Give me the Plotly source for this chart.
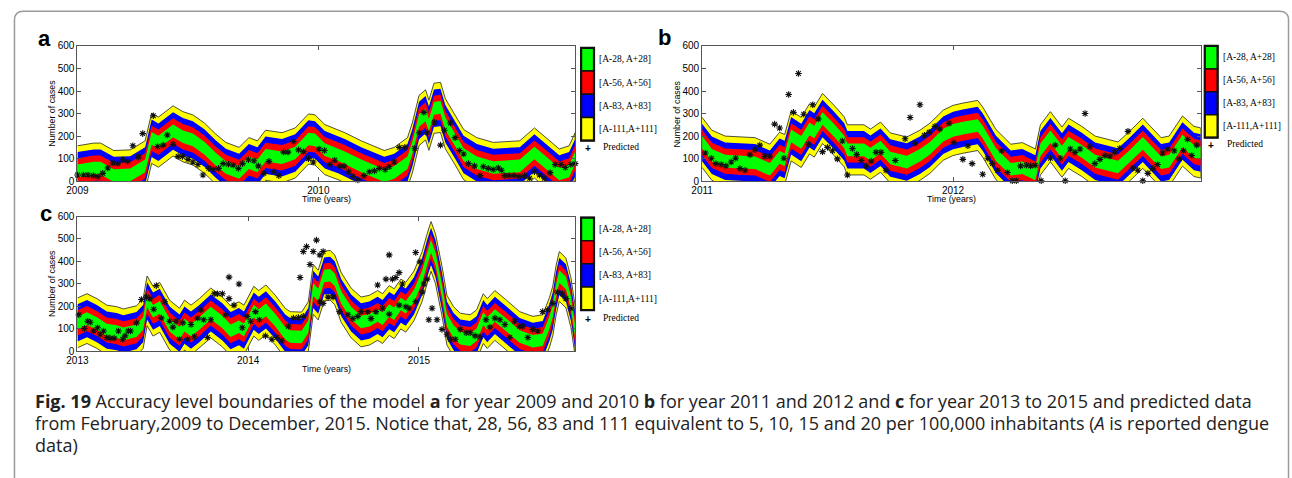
import plotly.graph_objects as go

# ---------------- data ----------------
# reported data A (centre of the bands) per panel
a_t = [2009.000, 2009.068, 2009.096, 2009.151, 2009.219, 2009.247, 2009.281, 2009.308, 2009.336, 2009.397,
       2009.438, 2009.479, 2009.527, 2009.575, 2009.616, 2009.671, 2009.712, 2009.747, 2009.781, 2009.849,
       2009.904, 2009.959, 2009.986, 2010.027, 2010.082, 2010.110, 2010.178, 2010.274, 2010.315, 2010.370,
       2010.390, 2010.418, 2010.445, 2010.459, 2010.480, 2010.507, 2010.527, 2010.568, 2010.603, 2010.658,
       2010.726, 2010.836, 2010.897, 2010.945, 2011.000, 2011.041, 2011.066]
a_A = [47, 59, 59, 26, 29, 47, 69, 191, 174, 224,
       198, 184, 148, 98, 62, 40, 83, 69, 116, 105,
       126, 188, 184, 141, 119, 105, 69, 26, 40, 83,
       148, 270, 295, 249, 324, 328, 256, 184, 119, 83,
       62, 69, 126, 83, 33, 47, 105]

b_t = [2011.000, 2011.039, 2011.092, 2011.145, 2011.211, 2011.270, 2011.309, 2011.329, 2011.355, 2011.395,
       2011.428, 2011.447, 2011.480, 2011.526, 2011.566, 2011.579, 2011.645, 2011.671, 2011.711, 2011.750,
       2011.816, 2011.868, 2011.908, 2011.961, 2012.000, 2012.039, 2012.098, 2012.118, 2012.171, 2012.230,
       2012.276, 2012.328, 2012.348, 2012.388, 2012.434, 2012.460, 2012.513, 2012.566, 2012.657, 2012.697,
       2012.756, 2012.829, 2012.861, 2012.914, 2012.960, 2012.987]
b_A = [173, 116, 90, 86, 83, 54, 107, 97, 202, 173,
       233, 219, 279, 226, 176, 140, 140, 121, 152, 104,
       86, 116, 147, 205, 226, 236, 248, 219, 119, 54,
       61, 33, 140, 198, 130, 169, 133, 90, 64, 104,
       169, 83, 90, 179, 133, 126]

c_t = [2013.000, 2013.056, 2013.114, 2013.172, 2013.230, 2013.269, 2013.346, 2013.385, 2013.408, 2013.443,
       2013.482, 2013.540, 2013.598, 2013.627, 2013.665, 2013.714, 2013.781, 2013.849, 2013.897, 2013.946,
       2013.975, 2014.033, 2014.062, 2014.104, 2014.159, 2014.217, 2014.246, 2014.313, 2014.352, 2014.381,
       2014.410, 2014.445, 2014.480, 2014.507, 2014.545, 2014.603, 2014.661, 2014.710, 2014.758, 2014.787,
       2014.826, 2014.855, 2014.894, 2014.923, 2014.971, 2015.019, 2015.048, 2015.071, 2015.097, 2015.135,
       2015.164, 2015.203, 2015.242, 2015.300, 2015.338, 2015.377, 2015.400, 2015.445, 2015.513, 2015.590,
       2015.667, 2015.725, 2015.765, 2015.784, 2015.803, 2015.822, 2015.861, 2015.890, 2015.915]
c_A = [126, 145, 123, 94, 87, 77, 91, 123, 224, 178,
       195, 116, 80, 116, 94, 123, 170, 130, 91, 109,
       94, 178, 159, 184, 138, 80, 65, 63, 109, 275,
       250, 335, 338, 318, 239, 170, 130, 138, 159, 145,
       181, 167, 210, 196, 246, 333, 412, 467, 412, 268,
       138, 87, 58, 51, 73, 145, 123, 159, 116, 65,
       44, 51, 129, 179, 269, 333, 304, 217, 89]

# predicted data per panel
a_pt = [2009.000, 2009.025, 2009.044, 2009.066, 2009.085, 2009.105, 2009.126, 2009.147, 2009.167, 2009.188,
        2009.208, 2009.230, 2009.253, 2009.271, 2009.315, 2009.333, 2009.356, 2009.373, 2009.397, 2009.418,
        2009.436, 2009.459, 2009.479, 2009.500, 2009.521, 2009.545, 2009.564, 2009.586, 2009.605, 2009.627,
        2009.647, 2009.668, 2009.685, 2009.710, 2009.733, 2009.751, 2009.774, 2009.795, 2009.815, 2009.836,
        2009.856, 2009.874, 2009.897, 2009.918, 2009.938, 2009.959, 2009.979, 2010.003, 2010.025, 2010.048,
        2010.068, 2010.089, 2010.107, 2010.126, 2010.144, 2010.164, 2010.189, 2010.212, 2010.233, 2010.253,
        2010.277, 2010.294, 2010.315, 2010.336, 2010.359, 2010.400, 2010.419, 2010.438, 2010.452, 2010.482,
        2010.507, 2010.523, 2010.548, 2010.568, 2010.586, 2010.603, 2010.623, 2010.648, 2010.671, 2010.685,
        2010.705, 2010.726, 2010.747, 2010.760, 2010.774, 2010.792, 2010.812, 2010.833, 2010.856, 2010.877,
        2010.897, 2010.918, 2010.938, 2010.962, 2010.983, 2011.007, 2011.025, 2011.048, 2011.066]
a_pv = [29, 29, 29, 26, 22, 36, 60, 82, 79, 96,
        89, 158, 108, 212, 291, 155, 161, 206, 165, 111,
        111, 98, 86, 75, 29, 58, 53, 58, 79, 76,
        72, 58, 79, 96, 92, 69, 36, 89, 43, 26,
        130, 130, 177, 140, 132, 101, 86, 144, 137, 75,
        94, 68, 68, 43, 22, 7, 26, 43, 47, 58,
        53, 65, 86, 151, 151, 147, 216, 306, 216, 262,
        161, 227, 259, 194, 137, 122, 79, 69, 26, 65,
        58, 53, 60, 50, 26, 26, 26, 22, 26, 14,
        43, 29, 14, 39, 75, 75, 62, 75, 79]

b_pt = [2011.013, 2011.037, 2011.055, 2011.076, 2011.095, 2011.116, 2011.134, 2011.151, 2011.171, 2011.191,
        2011.211, 2011.230, 2011.250, 2011.270, 2011.289, 2011.309, 2011.326, 2011.345, 2011.364, 2011.384,
        2011.405, 2011.424, 2011.441, 2011.463, 2011.480, 2011.500, 2011.520, 2011.539, 2011.559, 2011.579,
        2011.599, 2011.616, 2011.634, 2011.654, 2011.674, 2011.693, 2011.713, 2011.733, 2011.770, 2011.809,
        2011.829, 2011.849, 2011.868, 2011.886, 2011.905, 2011.928, 2011.947, 2011.984, 2012.003, 2012.039,
        2012.059, 2012.076,
        2012.118, 2012.138, 2012.157, 2012.177, 2012.194, 2012.217, 2012.236, 2012.252, 2012.269, 2012.292,
        2012.309, 2012.328, 2012.351, 2012.388, 2012.407, 2012.427, 2012.447, 2012.467, 2012.486, 2012.506,
        2012.526, 2012.546, 2012.565, 2012.585, 2012.605, 2012.625, 2012.644, 2012.664, 2012.697, 2012.717,
        2012.736, 2012.756, 2012.776, 2012.796, 2012.815, 2012.835, 2012.855, 2012.881, 2012.901, 2012.918,
        2012.934, 2012.951, 2012.971, 2012.989]
b_pv = [126, 103, 79, 75, 69, 86, 103, 57, 50, 118,
        141, 161, 112, 112, 254, 237, 103, 385, 306, 478,
        298, 165, 340, 277, 132, 151, 136, 100, 179, 29,
        146, 119, 93, 69, 90, 129, 129, 50, 93, 189,
        283, 169, 340, 205, 218, 244, 232, 258, 172, 98,
        158, 79,
        32, 103, 79, 50, 136, 40, 3, 3, 69, 72,
        69, 72, 3, 103, 161, 103, 3, 144, 129, 144,
        301, 155, 79, 98, 115, 112, 129, 146, 222, 60,
        50, 3, 36, 57, 75, 126, 144, 136, 100, 136,
        187, 115, 161, 115]

c_pt = [2013.008, 2013.041, 2013.060, 2013.075, 2013.095, 2013.118, 2013.133, 2013.153, 2013.172, 2013.191,
        2013.215, 2013.240, 2013.265, 2013.279, 2013.298, 2013.311, 2013.346, 2013.375, 2013.404, 2013.424,
        2013.447, 2013.462, 2013.491, 2013.511, 2013.540, 2013.559, 2013.578, 2013.598, 2013.617, 2013.646,
        2013.665, 2013.685, 2013.704, 2013.723, 2013.739, 2013.762, 2013.781, 2013.801, 2013.820, 2013.849,
        2013.868, 2013.888, 2013.888, 2013.917, 2013.946, 2013.965, 2013.994, 2014.014, 2014.043, 2014.066,
        2014.101, 2014.139, 2014.168, 2014.197, 2014.236, 2014.265, 2014.294, 2014.323,
        2014.304, 2014.323, 2014.342, 2014.362, 2014.381, 2014.400, 2014.420, 2014.439,
        2014.420, 2014.439, 2014.468, 2014.497,
        2014.758, 2014.807, 2014.826, 2014.845, 2014.865, 2014.884, 2014.903, 2014.981, 2015.006, 2015.029,
        2015.048,
        2014.536, 2014.584, 2014.613, 2014.642, 2014.661, 2014.700, 2014.719, 2014.748, 2014.787, 2014.826,
        2014.884, 2014.923, 2014.942, 2014.981, 2015.019, 2015.058, 2015.077, 2015.106, 2015.135, 2015.164,
        2015.184, 2015.213, 2015.242, 2015.277, 2015.300, 2015.329, 2015.358, 2015.393, 2015.416, 2015.445,
        2015.474, 2015.503, 2015.532, 2015.561, 2015.590, 2015.609, 2015.638, 2015.667, 2015.696, 2015.725,
        2015.754, 2015.784, 2015.812, 2015.841, 2015.861, 2015.890]
c_pv = [162, 101, 133, 129, 90, 104, 75, 90, 61, 58,
        58, 90, 53, 68, 90, 90, 126, 230, 241, 234,
        187, 292, 147, 220, 133, 107, 133, 53, 126, 53,
        119, 64, 147, 184, 140, 61, 140, 256, 256, 256,
        162, 234, 330, 205, 299, 104, 155, 133, 176, 140,
        68, 53, 61, 46, 111, 147, 150, 155,
        328, 444, 466, 386, 444, 495, 429, 444,
        220, 213, 241, 241,
        295, 321, 429, 321, 328, 350, 299, 440, 398, 299,
        321,
        176, 162, 145, 155, 176, 176, 145, 176, 191, 165,
        205, 198, 191, 220, 263, 140, 191, 140, 97, 75,
        53, 53, 97, 82, 82, 68, 64, 140, 107, 147,
        140, 119, 61, 133, 111, 111, 61, 97, 90, 176,
        184, 213, 263, 256, 234, 191]

band_halfwidths = [111, 83, 56, 28]
band_colors = ["#FFFF00", "#0000FF", "#FF0000", "#00FF00"]
legend_labels = ["[A-28, A+28]", "[A-56, A+56]", "[A-83, A+83]", "[A-111,A+111]"]
legend_colors = ["#00FF00", "#FF0000", "#0000FF", "#FFFF00"]
y_ticks = [0, 100, 200, 300, 400, 500, 600]

# ---------------- layout helpers ----------------
W, H = 1292, 478
def PX(x): return x / W
def PY(y): return 1 - y / H

panels = [
    dict(t=a_t, A=a_A, pt=a_pt, pv=a_pv, box=(67, 41, 569, 180), xr=[2009, 2011.066],
         xt=[2009, 2010], letter="a", letter_xy=(34, 33),
         leg=(575, 43, 588, 138), leg_text_x=591, pred_y=145),
    dict(t=b_t, A=b_A, pt=b_pt, pv=b_pv, box=(697, 41, 1200, 180), xr=[2011, 2012.987],
         xt=[2011, 2012], letter="b", letter_xy=(659, 32),
         leg=(1204, 41, 1217, 135), leg_text_x=1220, pred_y=142),
    dict(t=c_t, A=c_A, pt=c_pt, pv=c_pv, box=(67, 216, 569, 354), xr=[2013, 2015.915],
         xt=[2013, 2014, 2015], letter="c", letter_xy=(35, 213),
         leg=(575, 217, 588, 312), leg_text_x=591, pred_y=320),
]

fig = go.Figure()
shapes, annotations = [], []
sans = "Liberation Sans, Arial"
serif = "Liberation Serif, Times New Roman"
tickfont = dict(family=sans, size=10, color="#000")


def ann(x, y, text, size, family=sans, xa="center", ya="middle", angle=0, color="#000"):
    annotations.append(dict(x=PX(x), y=PY(y), xref="paper", yref="paper", text=text,
                            showarrow=False, xanchor=xa, yanchor=ya, textangle=angle,
                            font=dict(family=family, size=size, color=color)))


for i, p in enumerate(panels, start=1):
    xa = "x" if i == 1 else f"x{i}"
    ya = "y" if i == 1 else f"y{i}"
    t, A = p["t"], p["A"]
    for k, col in zip(band_halfwidths, band_colors):
        up = [v + k for v in A]
        lo = [v - k for v in A]
        fig.add_trace(go.Scatter(
            x=t + t[::-1], y=up + lo[::-1], fill="toself", fillcolor=col,
            mode="lines",
            line=dict(color="#222" if k == 111 else col, width=0.8 if k == 111 else 0),
            xaxis=xa, yaxis=ya, showlegend=False, hoverinfo="skip"))
    fig.add_trace(go.Scatter(
        x=p["pt"], y=p["pv"], mode="markers",
        marker=dict(symbol="asterisk-open", size=5.5, color="#111", line=dict(color="#111", width=1.1)),
        xaxis=xa, yaxis=ya, showlegend=False, cliponaxis=False, hoverinfo="skip"))

    x0, y0, x1, y1 = p["box"]
    sfx = "" if i == 1 else str(i)
    common = dict(showline=True, linecolor="#555", linewidth=1, mirror="ticks",
                  ticks="inside", ticklen=4, tickcolor="#555", tickwidth=1,
                  showgrid=False, zeroline=False, tickfont=tickfont, fixedrange=True)
    fig.update_layout(**{
        f"xaxis{sfx}": dict(domain=[PX(x0), PX(x1)], range=p["xr"], tickvals=p["xt"],
                            ticktext=[str(v) for v in p["xt"]], anchor=ya, **common),
        f"yaxis{sfx}": dict(domain=[PY(y1), PY(y0)], range=[0, 600], tickvals=y_ticks,
                            anchor=xa, **common),
    })

    ann((x0 + x1) / 2, y1 + 18, "Time (years)", 8.8)
    ann(x0 - 25.5, (y0 + y1) / 2, "Number of cases", 8.8, angle=-90)
    lx, ly = p["letter_xy"]
    ann(lx, ly, f"<b>{p['letter']}</b>", 22)

    # legend
    lx0, ly0, lx1, ly1 = p["leg"]
    ch = (ly1 - ly0) / 4
    for j, (lab, col) in enumerate(zip(legend_labels, legend_colors)):
        cy0 = ly0 + j * ch
        shapes.append(dict(type="rect", xref="paper", yref="paper",
                           x0=PX(lx0), x1=PX(lx1), y0=PY(cy0), y1=PY(cy0 + ch),
                           fillcolor=col, line=dict(color="#111", width=1.5)))
        ann(p["leg_text_x"], cy0 + ch / 2, lab, 9.5, family=serif, xa="left")
    shapes.append(dict(type="rect", xref="paper", yref="paper",
                       x0=PX(lx0), x1=PX(lx1), y0=PY(ly0), y1=PY(ly1),
                       fillcolor="rgba(0,0,0,0)", line=dict(color="#111", width=2.2)))
    ann(lx0 + 6.5, p["pred_y"] + 1.5, "<b>+</b>", 10)
    ann(p["leg_text_x"] + 4, p["pred_y"], "Predicted", 9.5, family=serif, xa="left")

# outer rounded frame
r = 9
fx0, fy0, fx1, fy1 = 3.5, 5.5, 1288.5, 520
path = (f"M {PX(fx0)},{PY(fy1)} L {PX(fx0)},{PY(fy0 + r)} Q {PX(fx0)},{PY(fy0)} {PX(fx0 + r)},{PY(fy0)} "
        f"L {PX(fx1 - r)},{PY(fy0)} Q {PX(fx1)},{PY(fy0)} {PX(fx1)},{PY(fy0 + r)} L {PX(fx1)},{PY(fy1)}")
shapes.append(dict(type="path", xref="paper", yref="paper", path=path,
                   line=dict(color="#9a9a9a", width=1.5)))

# caption
caption = [
    "<b>Fig. 19</b> Accuracy level boundaries of the model <b>a</b> for year 2009 and 2010 <b>b</b> for year 2011 and 2012 and <b>c</b> for year 2013 to 2015 and predicted data",
    "from February,2009 to December, 2015. Notice that, 28, 56, 83 and 111 equivalent to 5, 10, 15 and 20 per 100,000 inhabitants (<i>A</i> is reported dengue",
    "data)",
]
for line, yy in zip(caption, [405, 428, 450]):
    ann(22, yy, line, 18, family="Open Sans, Lato", xa="left", color="#222")

fig.update_layout(width=W, height=H, margin=dict(l=0, r=0, t=0, b=0),
                  paper_bgcolor="white", plot_bgcolor="white", hovermode=False,
                  shapes=shapes, annotations=annotations, showlegend=False)

fig.write_html("out.html", config={"displayModeBar": False, "staticPlot": True},
               post_script="document.body.style.margin='0';document.body.style.overflow='hidden';")
